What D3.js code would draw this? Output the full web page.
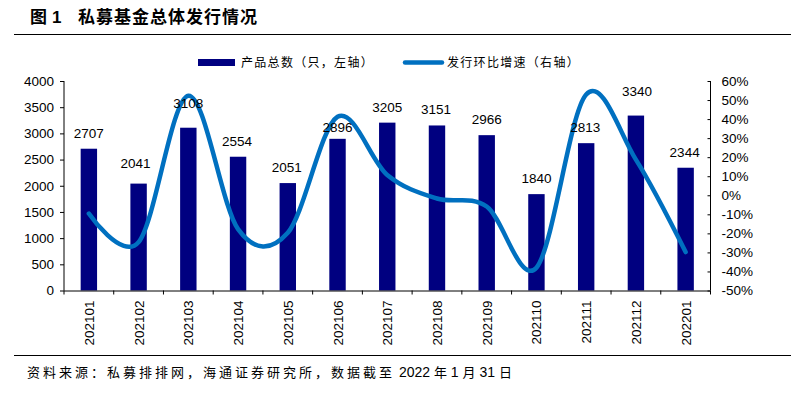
<!DOCTYPE html>
<html><head><meta charset="utf-8">
<script src="https://cdn.jsdelivr.net/npm/d3@7"></script>
<style>
body{margin:0;background:#fff;}
svg{display:block;}
text{font-family:"Liberation Sans",Arial,sans-serif;}
.cjk{font-family:"Noto Sans CJK SC","Noto Sans",sans-serif;}
</style></head>
<body>
<svg id="c" width="805" height="401"></svg>
<script>
const categories = ["202101","202102","202103","202104","202105","202106","202107","202108","202109","202110","202111","202112","202201"];
const productCount = [2707,2041,3108,2554,2051,2896,3205,3151,2966,1840,2813,3340,2344];
const growthRate = [-9.6,-24.6,52.3,-17.8,-19.7,41.2,10.7,-1.7,-5.9,-38.0,52.9,18.7,-29.8];
const leftTicks = [0,500,1000,1500,2000,2500,3000,3500,4000];
const rightTicks = [-50,-40,-30,-20,-10,0,10,20,30,40,50,60];
// label vertical nudges (px above default position)
const labelNudge = [0,5,9,0,0,-4,0,0,0,0,0,9,0];
const labelShiftX = [0,-3,0,-1,-1,0,0,-1,0,0,-1,1,-1];

const svg = d3.select("#c");
const L = 64, R = 710.5, T = 81, B = 290.5;

// title
svg.append("text").attr("x",30).attr("y",23).attr("class","cjk")
  .attr("font-size",17).attr("font-weight","bold").attr("fill","#000").text("图");
svg.append("text").attr("x",52).attr("y",23)
  .attr("font-size",17).attr("font-weight","bold").attr("fill","#000").text("1");
svg.append("text").attr("x",78).attr("y",23).attr("class","cjk")
  .attr("font-size",17).attr("font-weight","bold").attr("letter-spacing",1).text("私募基金总体发行情况");
svg.append("line").attr("x1",14).attr("x2",791).attr("y1",34.5).attr("y2",34.5)
  .attr("stroke","#000").attr("stroke-width",1.2);

const x = d3.scaleBand().domain(categories).range([L,R]);
const y = d3.scaleLinear().domain([0,4000]).range([B,T]);
const y2 = d3.scaleLinear().domain([-50,60]).range([B,T]);

// bars
const bw = x.bandwidth()*0.33;
svg.append("g").selectAll("rect").data(categories).join("rect")
  .attr("x",d=>x(d)+x.bandwidth()/2-bw/2)
  .attr("y",(d,i)=>y(productCount[i]))
  .attr("width",bw)
  .attr("height",(d,i)=>B-y(productCount[i]))
  .attr("fill","#000080");

// left axis
const ga = svg.append("g").attr("transform",`translate(${L},0)`)
  .call(d3.axisLeft(y).tickValues(leftTicks).tickSize(4).tickPadding(6).tickFormat(d3.format("d")));
ga.selectAll("text").attr("font-size",13.5).attr("fill","#000").attr("font-family","Liberation Sans, Arial");
ga.selectAll("line,path").attr("stroke","#000");
ga.select(".domain").attr("d",`M0,${T}V${B}`);

// right axis
const gr = svg.append("g").attr("transform",`translate(${R},0)`)
  .call(d3.axisRight(y2).tickValues(rightTicks).tickSize(-3).tickPadding(11).tickFormat(d=>d+"%"));
gr.selectAll("text").attr("font-size",13.5).attr("fill","#000").attr("font-family","Liberation Sans, Arial");
gr.selectAll("line,path").attr("stroke","#000");
gr.select(".domain").attr("d",`M0,${T}V${B}`);

// bottom axis
const bx = svg.append("g");
bx.append("line").attr("x1",L).attr("x2",R).attr("y1",B+0.5).attr("y2",B+0.5).attr("stroke","#000");
const edges = categories.map(c=>x(c)).concat([R]);
bx.selectAll(".tk").data(edges).join("line")
  .attr("x1",d=>d).attr("x2",d=>d).attr("y1",B).attr("y2",B+4).attr("stroke","#000");
bx.selectAll(".xl").data(categories).join("text")
  .attr("transform",d=>`translate(${x(d)+x.bandwidth()/2+5},${B+10}) rotate(-90)`)
  .attr("text-anchor","end").attr("font-size",13.5).attr("fill","#000").text(d=>d);

// line
const line = d3.line().x((d,i)=>x(categories[i])+x.bandwidth()/2).y(d=>y2(d))
  .curve(d3.curveCardinal.tension(0));
svg.append("path").datum(growthRate).attr("d",line).attr("fill","none")
  .attr("stroke","#0070C0").attr("stroke-width",4.5).attr("stroke-linecap","round").attr("stroke-linejoin","round");

// bar labels
svg.append("g").selectAll("text").data(categories).join("text")
  .attr("x",(d,i)=>x(d)+x.bandwidth()/2+labelShiftX[i])
  .attr("y",(d,i)=>y(productCount[i])-11-labelNudge[i])
  .attr("text-anchor","middle").attr("font-size",13.5).attr("fill","#000")
  .text((d,i)=>productCount[i]);

// legend
svg.append("rect").attr("x",198).attr("y",59).attr("width",37).attr("height",7).attr("fill","#000080");
svg.append("text").attr("class","cjk").attr("x",241).attr("y",67).attr("font-size",12)
  .attr("letter-spacing",1.3).text("产品总数（只，左轴）");
svg.append("line").attr("x1",405).attr("x2",442).attr("y1",62.5).attr("y2",62.5)
  .attr("stroke","#0070C0").attr("stroke-width",4.5).attr("stroke-linecap","round");
svg.append("text").attr("class","cjk").attr("x",447).attr("y",67).attr("font-size",12)
  .attr("letter-spacing",1.3).text("发行环比增速（右轴）");

// source
svg.append("line").attr("x1",14).attr("x2",791).attr("y1",355.5).attr("y2",355.5)
  .attr("stroke","#000").attr("stroke-width",1);
const st = svg.append("text").attr("x",27).attr("y",377).attr("font-size",13);
st.append("tspan").attr("class","cjk").attr("letter-spacing",3).text("资料来源：私募排排网，海通证券研究所，数据截至");
st.append("tspan").attr("font-size",14).text(" 2022 ");
st.append("tspan").attr("class","cjk").text("年");
st.append("tspan").attr("font-size",14).text(" 1 ");
st.append("tspan").attr("class","cjk").text("月");
st.append("tspan").attr("font-size",14).text(" 31 ");
st.append("tspan").attr("class","cjk").text("日");
</script>
</body></html>
